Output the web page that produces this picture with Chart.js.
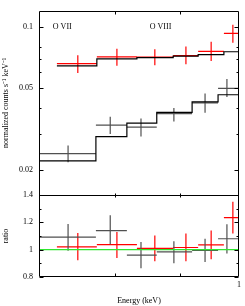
<!DOCTYPE html>
<html>
<head>
<meta charset="utf-8">
<script src="https://cdn.jsdelivr.net/npm/chart.js@4.4.1/dist/chart.umd.min.js"></script>
<style>
  html, body { margin: 0; padding: 0; background: #fff; }
  canvas { display: block; }
</style>
</head>
<body>
<canvas id="myChart" width="245" height="306"></canvas>
<script>
// black spectrum (lower one), bins in keV
const blackEdges = [0.5, 0.609, 0.678, 0.752, 0.850, 0.930, 1.0];
const blackCenters = [0.553, 0.640, 0.712, 0.798, 0.889, 0.959];
const blackModel = [0.02203, 0.02902, 0.03379, 0.03809, 0.04293, 0.04652];
const blackCounts = [0.02395, 0.03305, 0.03225, 0.0376, 0.04246, 0.05];
const blackCountsHi = [0.02623, 0.03634, 0.03557, 0.04009, 0.04719, 0.05556];
const blackCountsLo = [0.02173, 0.02988, 0.02902, 0.03442, 0.03796, 0.04533];
const blackRatio = [1.092, 1.139, 0.960, 0.984, 0.995, 1.08];
const blackRatioHi = [1.188, 1.252, 1.056, 1.061, 1.08, 1.186];
const blackRatioLo = [0.993, 1.04, 0.864, 0.901, 0.91, 0.972];

// red spectrum (upper one)
const redEdges = [0.532, 0.611, 0.702, 0.796, 0.868, 0.949, 1.0];
const redCenters = [0.572, 0.655, 0.747, 0.832, 0.908, 0.979];
const redModel = [0.06449, 0.06982, 0.0707, 0.07192, 0.07319, 0.07559];
const redCounts = [0.06612, 0.07138, 0.07115, 0.0724, 0.07592, 0.09297];
const redCountsHi = [0.07271, 0.0781, 0.07785, 0.08017, 0.08465, 0.1025];
const redCountsLo = [0.05951, 0.06449, 0.06493, 0.06564, 0.06811, 0.08375];
const redRatio = [1.021, 1.037, 1.009, 1.016, 1.035, 1.235];
const redRatioHi = [1.122, 1.129, 1.104, 1.118, 1.141, 1.35];
const redRatioLo = [0.922, 0.939, 0.915, 0.915, 0.929, 1.118];

// ticks
const xTicks = [0.65, 0.815, 1];
const xLabels = [1];
const countTicks = [0.02, 0.03, 0.04, 0.05, 0.06, 0.07, 0.08, 0.1];
const countLabels = [0.02, 0.05, 0.1];
const ratioTicks = [0.8, 0.9, 1, 1.1, 1.2, 1.3, 1.4];
const ratioLabels = [0.8, 1, 1.2, 1.4];

// line identifications
const lineNames = ['O VII', 'O VIII'];
const lineEnergies = [0.542, 0.762];

function steps(edges, vals) {
  const pts = vals.map((v, i) => ({x: edges[i], y: v}));
  pts.push({x: edges[edges.length - 1], y: vals[vals.length - 1]});
  return pts;
}

function crosses(edges, centers, y, lo, hi) {
  const pts = [];
  centers.forEach((c, i) => {
    pts.push({x: edges[i], y: y[i]}, {x: edges[i + 1], y: y[i]}, {x: edges[i + 1], y: null});
    pts.push({x: c, y: lo[i]}, {x: c, y: hi[i]}, {x: c, y: null});
  });
  return pts;
}

const GREY = '#505050';
const RED = '#ff0000';

const framePlugin = {
  id: 'frame',
  afterDatasetsDraw(chart) {
    const {ctx, chartArea: a, scales} = chart;
    const L = Math.round(a.left) + 0.5, R = Math.round(a.right) - 0.5;
    const T = Math.round(a.top) + 0.5, B = Math.round(a.bottom) - 0.5;
    const M = Math.round(scales.yr.top) + 0.5;
    ctx.save();
    ctx.strokeStyle = '#000';
    ctx.lineWidth = 1;
    ctx.beginPath();
    ctx.rect(L, T, R - L, B - T);
    ctx.moveTo(L, M); ctx.lineTo(R, M);
    const yMarks = (scale, values, majors) => values.forEach(v => {
      const py = Math.round(scale.getPixelForValue(v)) + 0.5;
      const len = majors.includes(v) ? 4 : 2;
      ctx.moveTo(L, py); ctx.lineTo(L + len, py);
      ctx.moveTo(R, py); ctx.lineTo(R - len, py);
    });
    yMarks(scales.y, countTicks, countLabels);
    yMarks(scales.yr, ratioTicks, ratioLabels);
    xTicks.filter(v => !xLabels.includes(v)).forEach(v => {
      const px = Math.round(scales.x.getPixelForValue(v)) + 0.5;
      ctx.moveTo(px, T); ctx.lineTo(px, T + 3);
      ctx.moveTo(px, M - 2); ctx.lineTo(px, M + 2);
      ctx.moveTo(px, B); ctx.lineTo(px, B - 3);
    });
    ctx.stroke();
    ctx.fillStyle = '#000';
    ctx.font = '8px "Liberation Serif"';
    ctx.textAlign = 'center';
    ctx.textBaseline = 'middle';
    lineNames.forEach((n, i) => {
      ctx.fillText(n, scales.x.getPixelForValue(lineEnergies[i]), scales.y.getPixelForValue(0.1));
    });
    ctx.restore();
  }
};

Chart.defaults.font.family = '"Liberation Serif", serif';
Chart.defaults.font.size = 8;
Chart.defaults.color = '#000';

const lineStyle = {pointRadius: 0, fill: false, spanGaps: false};

const config = {
  type: 'line',
  data: {
    datasets: [
      Object.assign({data: steps(blackEdges, blackModel), yAxisID: 'y', borderColor: '#000', borderWidth: 1.2, stepped: 'before'}, lineStyle),
      Object.assign({data: steps(redEdges, redModel), yAxisID: 'y', borderColor: '#000', borderWidth: 1.2, stepped: 'before'}, lineStyle),
      Object.assign({data: crosses(blackEdges, blackCenters, blackCounts, blackCountsLo, blackCountsHi), yAxisID: 'y', borderColor: GREY, borderWidth: 1.2}, lineStyle),
      Object.assign({data: crosses(redEdges, redCenters, redCounts, redCountsLo, redCountsHi), yAxisID: 'y', borderColor: RED, borderWidth: 1.2}, lineStyle),
      Object.assign({data: [{x: 0.5, y: 1}, {x: 1, y: 1}], yAxisID: 'yr', borderColor: '#2ee62e', borderWidth: 1.3}, lineStyle),
      Object.assign({data: crosses(blackEdges, blackCenters, blackRatio, blackRatioLo, blackRatioHi), yAxisID: 'yr', borderColor: GREY, borderWidth: 1.2}, lineStyle),
      Object.assign({data: crosses(redEdges, redCenters, redRatio, redRatioLo, redRatioHi), yAxisID: 'yr', borderColor: RED, borderWidth: 1.2}, lineStyle)
    ]
  },
  options: {
    responsive: false,
    animation: false,
    layout: {padding: {top: 1, right: 6, left: 0, bottom: 0}},
    plugins: {legend: {display: false}, tooltip: {enabled: false}},
    scales: {
      x: {
        type: 'logarithmic', min: 0.5, max: 1,
        afterBuildTicks: s => { s.ticks = xTicks.map(v => ({value: v})); },
        afterFit: s => { s.height = 29; },
        grid: {display: false, drawTicks: false},
        border: {display: false},
        ticks: {autoSkip: false, maxRotation: 0, padding: 3,
          callback: v => xLabels.includes(v) ? String(v) : ''},
        title: {display: true, text: 'Energy (keV)', padding: {top: 0, bottom: 0}}
      },
      yr: {
        type: 'linear', min: 0.8, max: 1.4,
        position: 'left', stack: 'panels', stackWeight: 85,
        afterBuildTicks: s => { s.ticks = ratioTicks.map(v => ({value: v})); },
        afterFit: s => { s.width = 39; },
        grid: {display: false, drawTicks: false},
        border: {display: false},
        ticks: {autoSkip: false, padding: 6,
          callback: v => ratioLabels.includes(v) ? String(v) : ''},
        title: {display: true, text: 'ratio', padding: {top: 1, bottom: 0}}
      },
      y: {
        type: 'logarithmic', min: 0.015, max: 0.12,
        position: 'left', stack: 'panels', stackWeight: 191,
        afterBuildTicks: s => { s.ticks = countTicks.map(v => ({value: v})); },
        afterFit: s => { s.width = 39; },
        grid: {display: false, drawTicks: false},
        border: {display: false},
        ticks: {autoSkip: false, padding: 6,
          callback: v => countLabels.includes(v) ? String(v) : ''},
        title: {display: true, text: 'normalized counts s\u207B\u00B9 keV\u207B\u00B9', padding: {top: 1, bottom: 0}}
      }
    }
  },
  plugins: [framePlugin]
};

new Chart(document.getElementById('myChart').getContext('2d'), config);
</script>
</body>
</html>
